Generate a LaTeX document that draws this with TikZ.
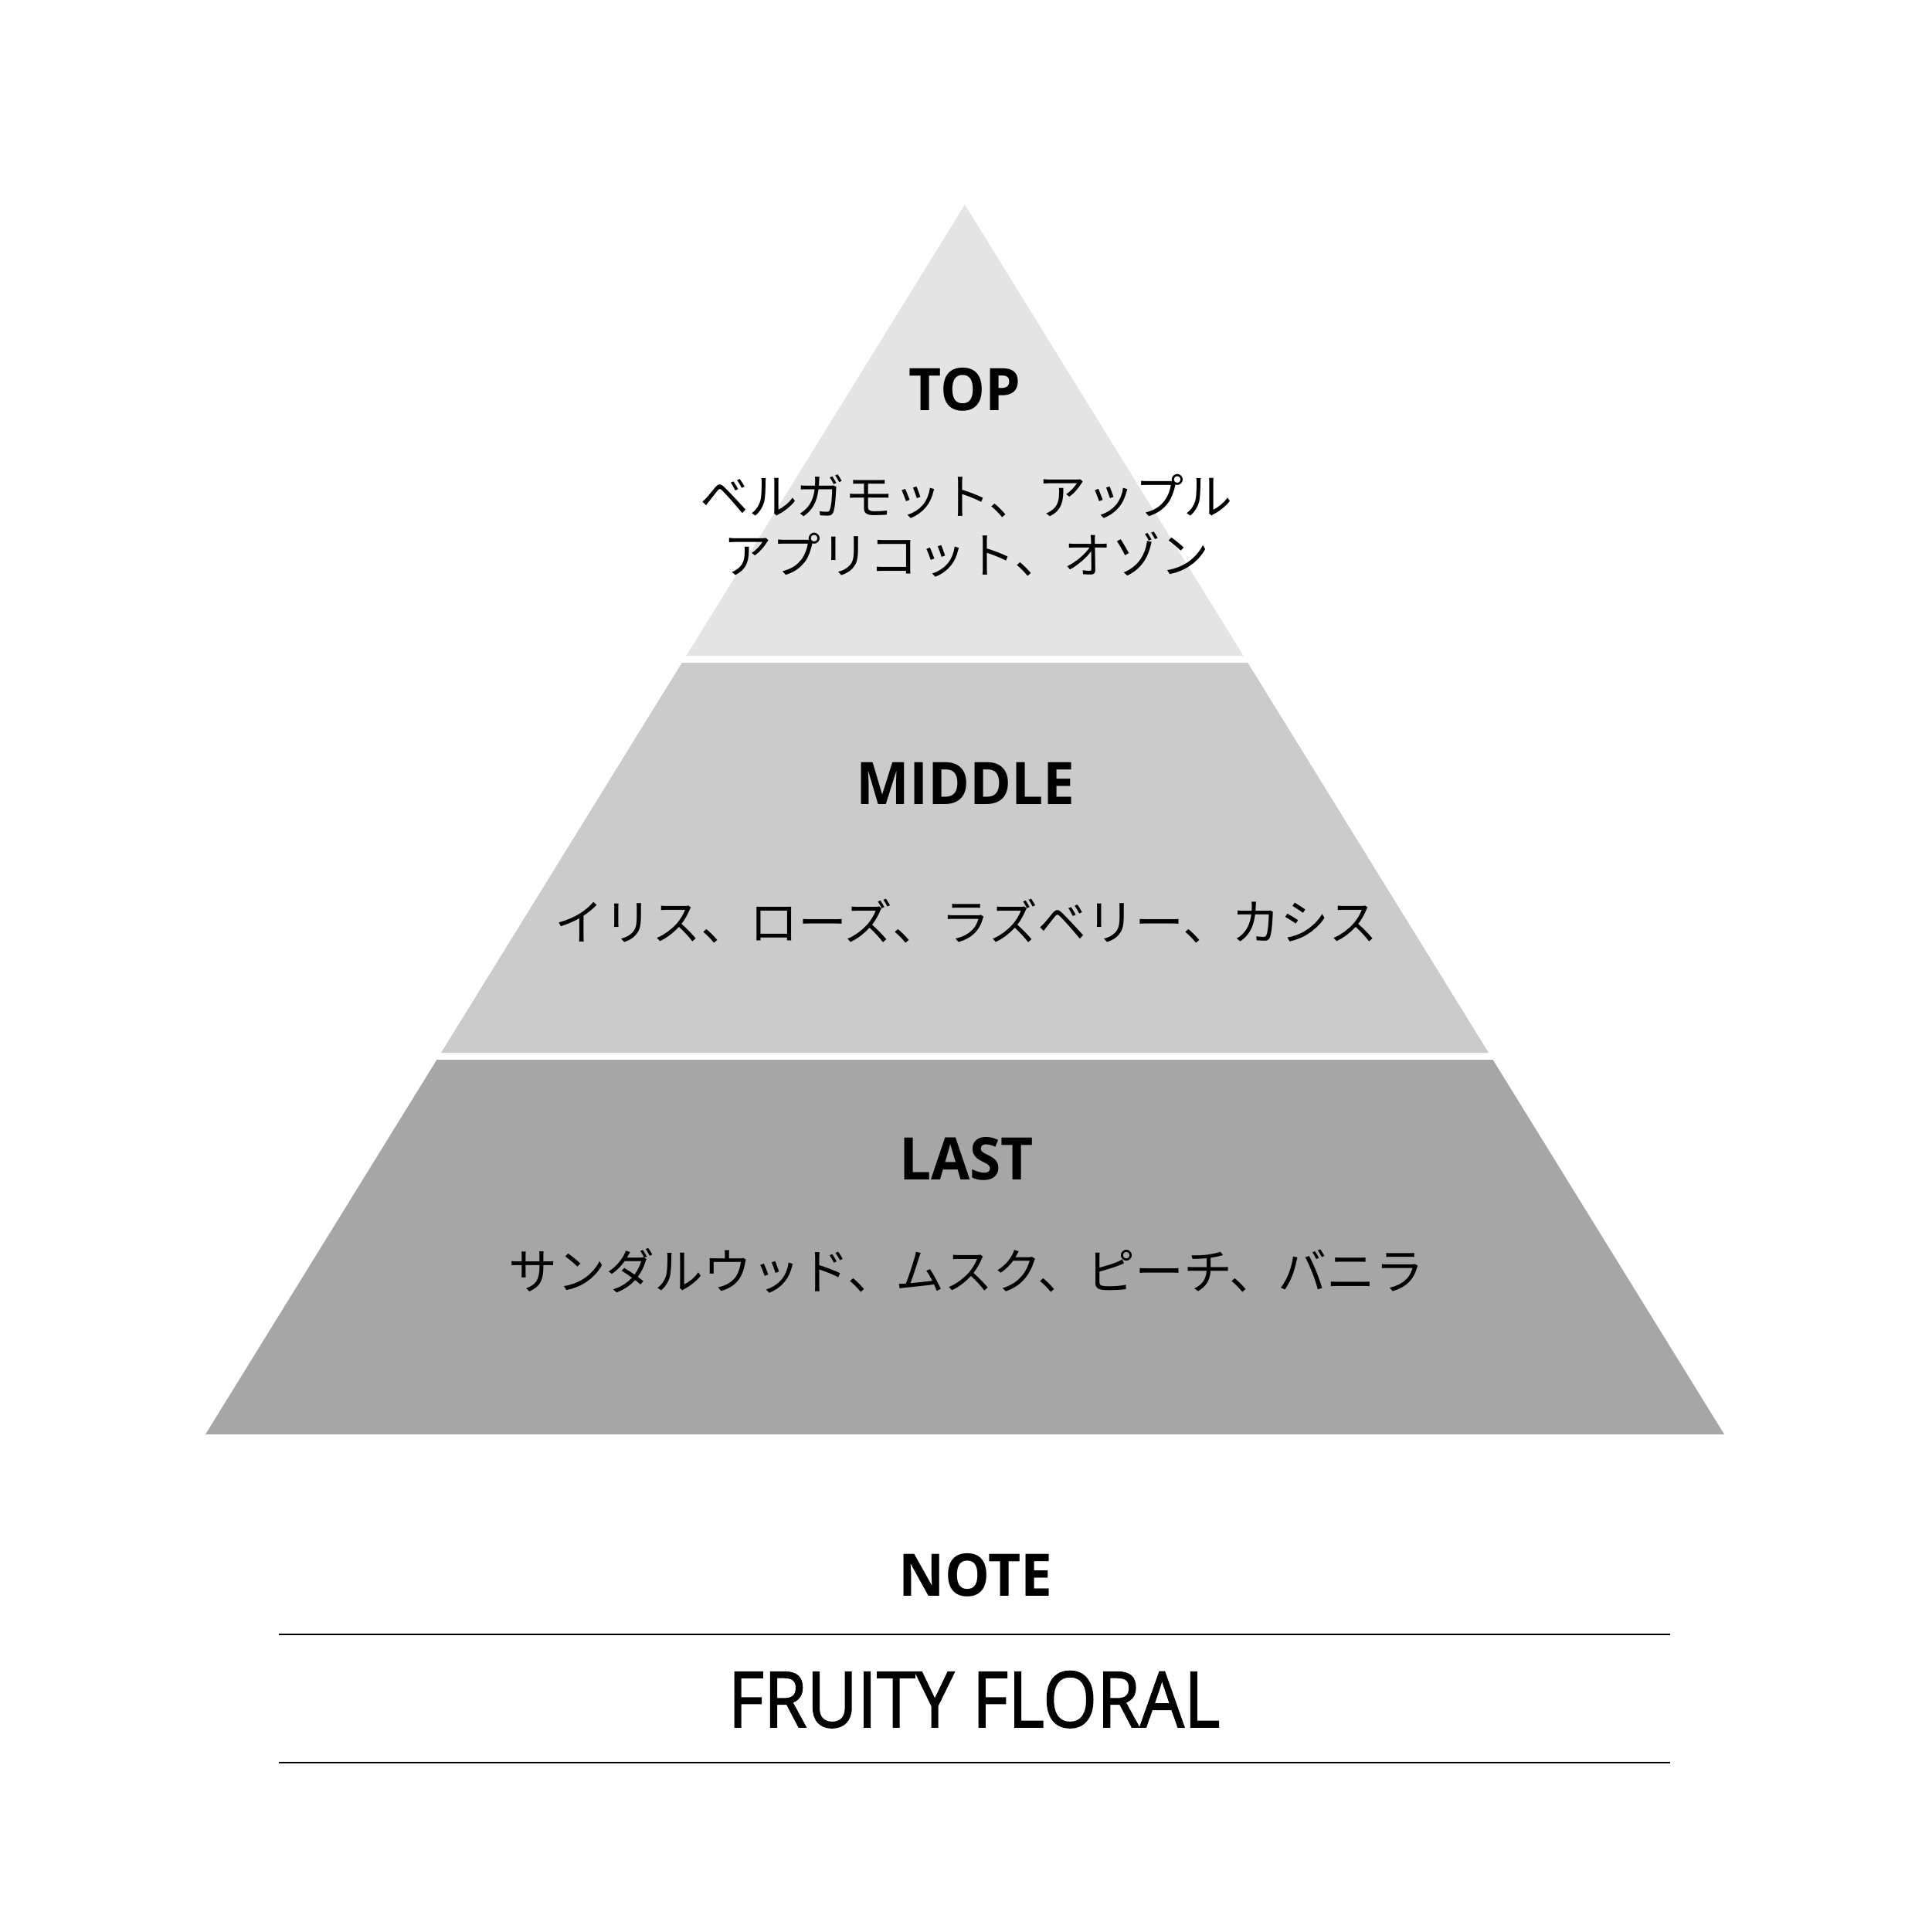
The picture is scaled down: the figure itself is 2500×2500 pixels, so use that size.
\documentclass[tikz,border=0pt]{standalone}
\usepackage{fontspec}
\setmainfont{Open Sans}
\newfontfamily\headfont[FakeStretch=0.96]{Open Sans Bold}
\newfontfamily\jpfont{Noto Sans CJK JP}
\newfontfamily\condfont[FakeStretch=0.9,FakeBold=1.6]{Open Sans}
\definecolor{topc}{HTML}{E4E4E4}
\definecolor{midc}{HTML}{CBCBCB}
\definecolor{lastc}{HTML}{A6A6A6}
\tikzset{
  head/.style={inner sep=0pt, anchor=base, font=\headfont\fontsize{76}{76}\selectfont},
  jptext/.style={inner sep=0pt, anchor=center, font=\jpfont\fontsize{63}{63}\selectfont},
  rule/.style={line width=2.4pt, black},
}
\begin{document}
\begin{tikzpicture}[x=1pt,y=-1pt]
\useasboundingbox (0,0) rectangle (2500,2500);
% bands
\fill[topc] (1249,265) -- (1609.6,849) -- (888.4,849) -- cycle;
\fill[midc] (882.8,858) -- (1615.2,858) -- (1927,1363) -- (571,1363) -- cycle;
\fill[lastc] (565.5,1372) -- (1932.5,1372) -- (2232,1857) -- (266,1857) -- cycle;
% labels
\node[head] (top) at (1249,531) {TOP};
\node[jptext] (topa) at (1251,643) {ベルガモット、アップル};
\node[jptext] (topb) at (1251,718) {アプリコット、オゾン};
\node[head] (mid) at (1250,1041) {MIDDLE};
\node[jptext] (mida) at (1251,1193) {イリス、ローズ、ラズベリー、カシス};
\node[head] (last) at (1251,1527) {LAST};
\node[jptext] (lasta) at (1251,1645) {サンダルウッド、ムスク、ピーチ、バニラ};
\node[head] (note) at (1263,2066) {NOTE};
\coordinate (r1a) at (361,2116);
\coordinate (r1b) at (2162,2116);
\coordinate (r2a) at (361,2282);
\coordinate (r2b) at (2162,2282);
\draw[rule] (r1a) -- (r1b);
\draw[rule] (r2a) -- (r2b);
\node[inner sep=0pt, anchor=base, font=\condfont\fontsize{100}{100}\selectfont] (family) at (1261,2236) {FRUITY FLORAL};
\end{tikzpicture}
\end{document}
